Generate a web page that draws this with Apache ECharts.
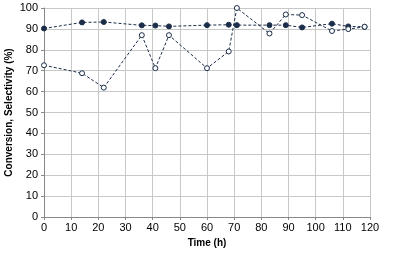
<!DOCTYPE html>
<html>
<head>
<meta charset="utf-8">
<script src="https://cdn.jsdelivr.net/npm/echarts@6/dist/echarts.min.js"></script>
<style>
  html, body { margin: 0; padding: 0; background: #fff; }
  #chart { width: 396px; height: 263px; }
</style>
</head>
<body>
<div id="chart"></div>
<script>
// time in hours, same for both series
const timeH = [0, 14, 22, 36, 41, 46, 60, 68, 71, 83, 89, 95, 106, 112, 118];
const filledSeries = [90.2, 93.1, 93.3, 91.7, 91.6, 91.2, 91.8, 92, 91.8, 91.8, 91.8, 90.7, 92.5, 91.2, 91];
const openSeries = [72.6, 68.8, 61.9, 87, 71.2, 87, 71.2, 79.2, 100, 87.8, 96.9, 96.6, 89, 89.9, 91];

const lineColor = "#1c2e4a";

function pairs(xs, ys) {
  return xs.map((x, i) => [x, ys[i]]);
}

const chart = echarts.init(document.getElementById("chart"));
chart.setOption({
  backgroundColor: "#fff",
  animation: false,
  grid: {
    left: 44,
    top: 8,
    right: 26,
    bottom: 46,
    containLabel: false,
    outerBoundsMode: "none",
  },
  xAxis: {
    type: "value",
    min: 0,
    max: 120,
    interval: 10,
    name: "Time (h)",
    nameLocation: "middle",
    nameGap: 21,
    nameMoveOverlap: false,
    nameTextStyle: { fontFamily: "Liberation Sans", fontWeight: "bold", fontSize: 10, color: "#000" },
    axisLine: { lineStyle: { color: "#888" } },
    axisTick: { show: true, length: 3, lineStyle: { color: "#888" } },
    axisLabel: { fontFamily: "Liberation Sans", fontSize: 11, color: "#000", margin: 5 },
    splitLine: { show: true, lineStyle: { color: "#c8c8c8", width: 1 } },
  },
  yAxis: {
    type: "value",
    min: 0,
    max: 100,
    interval: 10,
    name: "Conversion, Selectivity (%)",
    nameLocation: "middle",
    nameGap: 30,
    nameMoveOverlap: false,
    nameTextStyle: { fontFamily: "Liberation Sans", fontWeight: "bold", fontSize: 10, color: "#000" },
    axisLine: { show: true, lineStyle: { color: "#888" } },
    axisTick: { show: true, length: 3, lineStyle: { color: "#888" } },
    axisLabel: { fontFamily: "Liberation Sans", fontSize: 11, color: "#000", margin: 6 },
    splitLine: { show: true, lineStyle: { color: "#c8c8c8", width: 1 } },
  },
  series: [
    {
      name: "filled",
      type: "line",
      data: pairs(timeH, filledSeries),
      symbol: "circle",
      symbolSize: 5,
      itemStyle: { color: lineColor, borderColor: lineColor, borderWidth: 1 },
      lineStyle: { color: lineColor, width: 1, type: [3, 2] },
    },
    {
      name: "open",
      type: "line",
      data: pairs(timeH, openSeries),
      symbol: "circle",
      symbolSize: 5,
      itemStyle: { color: "#fff", borderColor: lineColor, borderWidth: 1 },
      lineStyle: { color: lineColor, width: 1, type: [3, 2] },
    },
  ],
});
</script>
</body>
</html>
